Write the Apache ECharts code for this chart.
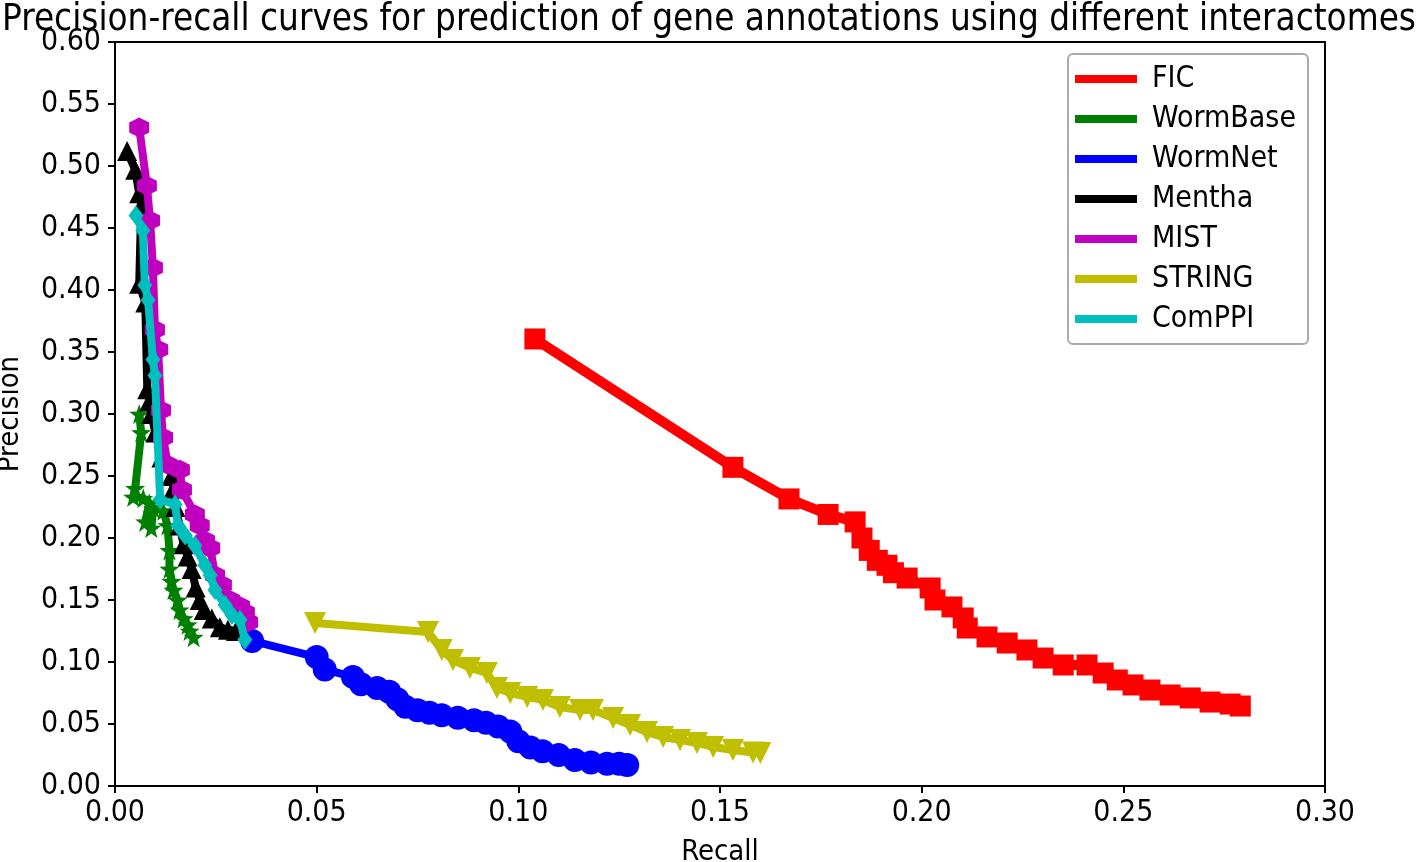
<!DOCTYPE html>
<html>
<head>
<meta charset="utf-8">
<script src="https://cdn.jsdelivr.net/npm/echarts@6/dist/echarts.min.js"></script>
<style>html,body{margin:0;padding:0;background:#fff;}#c{width:1418px;height:862px;}</style>
</head>
<body>
<div id="c"></div>
<script>
const FONT = "'DejaVu Sans Condensed', 'DejaVu Sans', sans-serif";
const seriesNames = ['FIC', 'WormBase', 'WormNet', 'Mentha', 'MIST', 'STRING', 'ComPPI'];
const xTicks = [0, 0.05, 0.10, 0.15, 0.20, 0.25, 0.30];
const yTicks = [0, 0.05, 0.10, 0.15, 0.20, 0.25, 0.30, 0.35, 0.40, 0.45, 0.50, 0.55, 0.60];

const FIC = [[0.1041,0.3605],[0.1532,0.257],[0.1671,0.2315],[0.1768,0.219],[0.1835,0.213],[0.1852,0.200],[0.187,0.190],[0.189,0.182],[0.1914,0.178],[0.193,0.172],[0.1964,0.1677],[0.2021,0.1597],[0.2033,0.150],[0.2075,0.1444],[0.2103,0.1355],[0.2113,0.1274],[0.2162,0.1202],[0.2212,0.1153],[0.2261,0.1097],[0.2301,0.1032],[0.2351,0.0976],[0.241,0.0976],[0.245,0.0911],[0.2485,0.0855],[0.2524,0.0815],[0.2566,0.0774],[0.2616,0.0734],[0.2666,0.071],[0.2715,0.0677],[0.2765,0.0661],[0.279,0.0645]];
const WormBase = [[0.0060,0.300],[0.0065,0.285],[0.0050,0.240],[0.0045,0.233],[0.0070,0.232],[0.0085,0.228],[0.0075,0.213],[0.0090,0.208],[0.0095,0.224],[0.0120,0.222],[0.0130,0.210],[0.0135,0.190],[0.0135,0.175],[0.0140,0.165],[0.0145,0.158],[0.0155,0.150],[0.0160,0.142],[0.0170,0.135],[0.0180,0.130],[0.0185,0.125],[0.0195,0.120]];
const WormNet = [[0.034,0.117],[0.050,0.104],[0.052,0.094],[0.059,0.088],[0.061,0.082],[0.065,0.079],[0.068,0.076],[0.070,0.070],[0.072,0.064],[0.075,0.061],[0.078,0.059],[0.081,0.057],[0.085,0.055],[0.089,0.053],[0.092,0.051],[0.095,0.048],[0.098,0.044],[0.100,0.036],[0.103,0.031],[0.106,0.028],[0.110,0.025],[0.114,0.021],[0.118,0.019],[0.122,0.018],[0.125,0.018],[0.127,0.017]];
const Mentha = [[0.003,0.512],[0.005,0.497],[0.006,0.478],[0.0065,0.468],[0.006,0.405],[0.0075,0.390],[0.008,0.320],[0.0085,0.310],[0.009,0.300],[0.010,0.285],[0.0115,0.265],[0.013,0.262],[0.014,0.250],[0.0145,0.240],[0.015,0.225],[0.016,0.210],[0.017,0.195],[0.018,0.185],[0.019,0.175],[0.020,0.160],[0.021,0.150],[0.022,0.142],[0.024,0.135],[0.026,0.128],[0.028,0.126],[0.030,0.125]];
const MIST = [[0.0060,0.531],[0.0079,0.484],[0.0087,0.456],[0.0094,0.418],[0.0099,0.368],[0.0107,0.352],[0.0114,0.303],[0.0119,0.281],[0.0131,0.259],[0.0161,0.255],[0.0166,0.239],[0.0198,0.219],[0.0210,0.210],[0.0223,0.198],[0.0236,0.192],[0.0248,0.170],[0.0265,0.162],[0.0285,0.150],[0.0310,0.145],[0.0322,0.140],[0.0330,0.132]];
const STRING = [[0.0496,0.1315],[0.0776,0.1242],[0.081,0.1097],[0.0838,0.1016],[0.088,0.0952],[0.0922,0.0911],[0.0947,0.079],[0.098,0.075],[0.1022,0.0718],[0.1061,0.0694],[0.1103,0.0637],[0.1153,0.0613],[0.1185,0.0613],[0.1235,0.0548],[0.1277,0.0492],[0.1319,0.0435],[0.1359,0.0395],[0.1401,0.0371],[0.1443,0.0347],[0.1483,0.0315],[0.1532,0.0290],[0.1582,0.0270],[0.1600,0.0266]];
const ComPPI = [[0.0052,0.460],[0.0069,0.448],[0.0074,0.404],[0.0082,0.392],[0.0094,0.344],[0.0099,0.331],[0.0112,0.231],[0.0149,0.227],[0.0156,0.210],[0.0174,0.202],[0.0198,0.194],[0.0223,0.178],[0.0236,0.170],[0.0248,0.158],[0.0273,0.146],[0.0290,0.138],[0.0310,0.134],[0.0322,0.118]];

const seriesData = [FIC, WormBase, WormNet, Mentha, MIST, STRING, ComPPI];
const colors = ['#ff0000', '#008000', '#0000ff', '#000000', '#bf00bf', '#bfbf00', '#00bfbf'];
const STAR = 'path://M0,-10 L2.35,-3.24 L9.51,-3.09 L3.8,1.24 L5.88,8.09 L0,4 L-5.88,8.09 L-3.8,1.24 L-9.51,-3.09 L-2.35,-3.24 Z';
const HEX = 'path://M0,-10 L8.66,-5 L8.66,5 L0,10 L-8.66,5 L-8.66,-5 Z';
const symbols = ['rect', STAR, 'circle', 'triangle', HEX, 'triangle', 'diamond'];
const symbolSizes = [21, 20, 24, 20, 20, 22, [15, 20]];
const symbolRotates = [0, 0, 0, 0, 0, 180, 0];

const chart = echarts.init(document.getElementById('c'), null, {renderer: 'canvas'});
const option = {
  animation: false,
  backgroundColor: '#fff',
  title: {
    text: 'Precision-recall curves for prediction of gene annotations using different interactomes',
    left: 'center', top: -3,
    textStyle: {fontFamily: FONT, fontSize: 36.5, fontWeight: 'normal', color: '#000'}
  },
  legend: {
    orient: 'vertical',
    left: 1068, top: 54,
    width: 242,
    padding: [9, 12, 9, 7],
    backgroundColor: '#fff',
    borderColor: '#aaaaaa', borderWidth: 2, borderRadius: 5,
    icon: 'rect',
    itemWidth: 62, itemHeight: 8,
    itemGap: 8,
    textStyle: {fontFamily: FONT, fontSize: 30, color: '#000', lineHeight: 32, padding: [0, 0, 0, 10]},
    data: seriesNames
  },
  grid: {
    left: 115, right: 93, top: 42, bottom: 76,
    show: true, borderColor: '#000', borderWidth: 2, containLabel: false,
    outerBoundsMode: 'none'
  },
  xAxis: {
    type: 'value', min: 0, max: 0.3, interval: 0.05,
    name: 'Recall', nameLocation: 'middle', nameGap: 52,
    nameTextStyle: {fontFamily: FONT, fontSize: 29, color: '#000'},
    axisLine: {show: true, lineStyle: {color: '#000', width: 2}},
    axisTick: {show: true, length: 7, lineStyle: {color: '#000', width: 2}},
    axisLabel: {fontFamily: FONT, fontSize: 30, color: '#000', margin: 12,
      formatter: v => xTicks.find(t => Math.abs(t - v) < 1e-9) !== undefined ? v.toFixed(2) : ''},
    splitLine: {show: false}
  },
  yAxis: {
    type: 'value', min: 0, max: 0.6, interval: 0.05,
    name: 'Precision', nameLocation: 'middle', nameGap: 90, nameRotate: 90,
    nameTextStyle: {fontFamily: FONT, fontSize: 29, color: '#000'},
    axisLine: {show: true, lineStyle: {color: '#000', width: 2}},
    axisTick: {show: true, length: 7, lineStyle: {color: '#000', width: 2}},
    axisLabel: {fontFamily: FONT, fontSize: 30, color: '#000', margin: 14,
      formatter: v => yTicks.find(t => Math.abs(t - v) < 1e-9) !== undefined ? v.toFixed(2) : ''},
    splitLine: {show: false}
  },
  series: seriesNames.map((name, i) => ({
    name: name,
    type: 'line',
    data: seriesData[i],
    color: colors[i],
    symbol: symbols[i],
    symbolSize: symbolSizes[i],
    symbolRotate: symbolRotates[i],
    showSymbol: true,
    lineStyle: {color: colors[i], width: i === 0 ? 10 : 8},
    itemStyle: {color: colors[i], borderWidth: 0},
    emphasis: {disabled: true},
    z: 2 + i
  }))
};
chart.setOption(option);
</script>
</body>
</html>
